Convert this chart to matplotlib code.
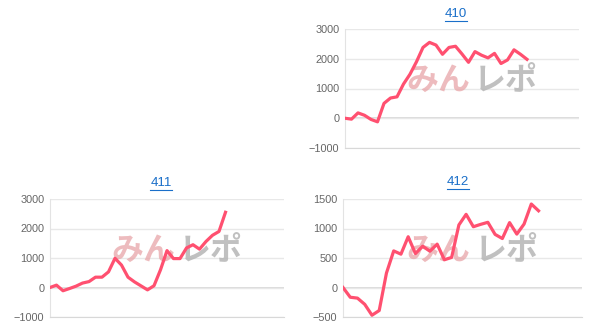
import matplotlib
matplotlib.use("Agg")
import matplotlib.pyplot as plt

plt.rcParams["font.family"] = ["Liberation Sans", "Noto Sans CJK JP", "DejaVu Sans"]

# cumulative differences per machine
titles = ["410", "411", "412"]
n_slots = [37, 37, 34]
yticks_410 = [-1000, 0, 1000, 2000, 3000]
yticks_411 = [-1000, 0, 1000, 2000, 3000]
yticks_412 = [-500, 0, 500, 1000, 1500]

vals_410 = [0, -30, 180, 100, -40, -120, 500, 680, 720, 1150, 1480, 1900, 2380,
            2550, 2460, 2150, 2380, 2420, 2160, 1880, 2240, 2120, 2030, 2180,
            1840, 1960, 2300, 2150, 1980]
vals_411 = [0, 80, -110, -35, 45, 150, 200, 350, 350, 530, 990, 760, 350, 190,
            55, -80, 60, 600, 1250, 980, 980, 1340, 1450, 1300, 1560, 1770,
            1900, 2550]
vals_412 = [0, -165, -180, -285, -470, -390, 245, 620, 565, 860, 575, 700, 615,
            735, 470, 510, 1060, 1240, 1030, 1070, 1105, 900, 830, 1100, 905,
            1075, 1415, 1300]

W, H = 608, 332
line_color = "#ff5070"
link_color = "#1a6fc9"


def px_axes(fig, left, top, right, bottom):
    return fig.add_axes([left / W, 1 - bottom / H, (right - left) / W, (bottom - top) / H])


def draw(ax, vals, yticks, slots):
    ax.plot(range(len(vals)), vals, color=line_color, lw=2.3, zorder=3)
    ax.set_xlim(0, slots - 1)
    ax.set_ylim(yticks[0], yticks[-1])
    ax.set_yticks(yticks)
    ax.set_xticks([])
    ax.grid(axis="y", color="#e8e8e8", lw=1)
    ax.axhline(0, color="#d4d4d4", lw=1.2, zorder=1)
    for s in ["top", "right"]:
        ax.spines[s].set_visible(False)
    ax.spines["left"].set_color("#e3e3e3")
    ax.spines["bottom"].set_color("#d8d8d8")
    ax.tick_params(axis="y", length=0, labelsize=7.8, labelcolor="#666666", pad=4)
    # watermark
    ax.text(0.535, 0.56, "みん", transform=ax.transAxes, ha="right", va="center",
            fontsize=23, fontweight="bold", color="#e8a5a8", alpha=0.75,
            family=["Noto Sans CJK JP"], zorder=2)
    ax.text(0.55, 0.56, "レポ", transform=ax.transAxes, ha="left", va="center",
            fontsize=23, fontweight="bold", color="#b5b5b5", alpha=0.85,
            family=["Noto Sans CJK JP"], zorder=2)


fig = plt.figure(figsize=(W / 100, H / 100), dpi=100)

ax1 = px_axes(fig, 345, 29, 579, 148)
draw(ax1, vals_410, yticks_410, n_slots[0])
ax2 = px_axes(fig, 50, 199, 284, 317)
draw(ax2, vals_411, yticks_411, n_slots[1])
ax3 = px_axes(fig, 343, 199, 582, 317)
draw(ax3, vals_412, yticks_412, n_slots[2])

# titles are links, so blue with an underline
for t, (x, y) in zip(titles, [(456, 14), (161, 183), (458, 182)]):
    fig.text(x / W, 1 - y / H, t, ha="center", va="center", fontsize=9.5,
             color=link_color)
    yl = 1 - (y + 7) / H
    fig.add_artist(plt.Line2D([(x - 11) / W, (x + 11) / W], [yl, yl],
                              color=link_color, lw=0.8))

fig.savefig("out.png", dpi=100)
